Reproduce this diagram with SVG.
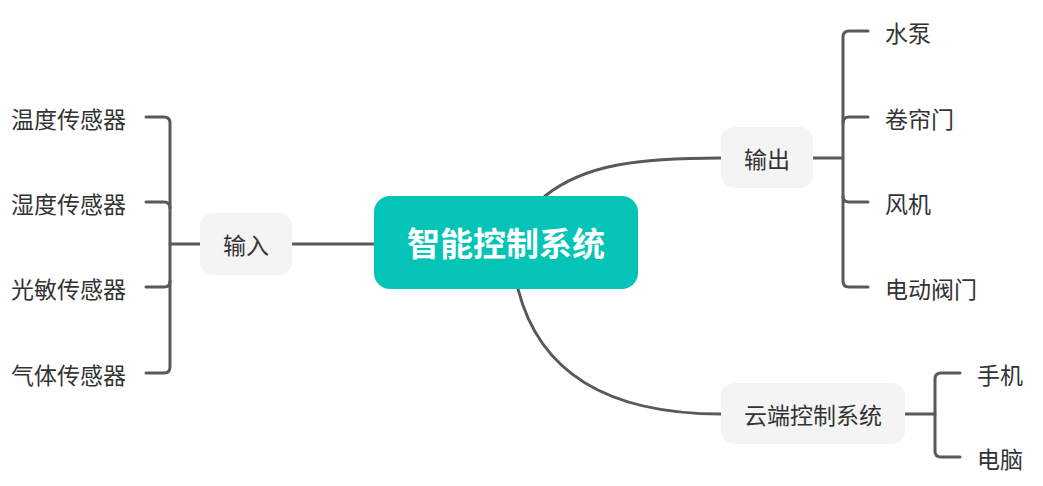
<svg xmlns="http://www.w3.org/2000/svg" width="1043" height="486" viewBox="0 0 1043 486">
<style>
.ln{fill:none;stroke:#595959;stroke-width:3;stroke-linecap:round;stroke-linejoin:round}
.sub{fill:#F4F4F4}
.t{font-family:"Noto Sans CJK SC","Microsoft YaHei",sans-serif;font-size:23px;fill:#333333;dominant-baseline:central}
.c{text-anchor:middle}
.main{font-family:"Noto Sans CJK SC","Microsoft YaHei",sans-serif;font-size:33px;font-weight:bold;fill:#FFFFFF;text-anchor:middle;dominant-baseline:central}
</style>
<rect width="1043" height="486" fill="#FFFFFF"/>
<g id="connectors">
<path class="ln" d="M292 244 H374"/>
<path class="ln" d="M200 244 H170"/>
<path class="ln" d="M146 117 H164 Q170 117 170 123 V367 Q170 373 164 373 H146"/>
<path class="ln" d="M146 202 H164 Q170 202 170 208"/>
<path class="ln" d="M146 287 H164 Q170 287 170 281"/>
<path class="ln" d="M545 196 C585 164 640 158 721 158"/>
<path class="ln" d="M813 158 H843"/>
<path class="ln" d="M868 31 H849 Q843 31 843 37 V281 Q843 287 849 287 H868"/>
<path class="ln" d="M868 117 H849 Q843 117 843 123"/>
<path class="ln" d="M868 202 H849 Q843 202 843 196"/>
<path class="ln" d="M518 289 C540 375 610 414 721 414"/>
<path class="ln" d="M905 414 H935"/>
<path class="ln" d="M960 373 H941 Q935 373 935 379 V451 Q935 457 941 457 H960"/>
</g>
<g id="center">
<rect x="374" y="196" width="264" height="93" rx="16" fill="#03C4B6"/>
<text class="main" x="506" y="242">智能控制系统</text>
</g>
<g id="input">
<rect class="sub" x="200" y="213" width="92" height="62" rx="13"/>
<text class="t c" x="246" y="244">输入</text>
</g>
<g id="output">
<rect class="sub" x="721" y="127" width="92" height="61" rx="13"/>
<text class="t c" x="767" y="158">输出</text>
</g>
<g id="cloud">
<rect class="sub" x="721" y="383" width="184" height="61" rx="13"/>
<text class="t c" x="813" y="414">云端控制系统</text>
</g>
<g id="in1"><text class="t" x="11" y="118">温度传感器</text></g>
<g id="in2"><text class="t" x="11" y="203">湿度传感器</text></g>
<g id="in3"><text class="t" x="11" y="288">光敏传感器</text></g>
<g id="in4"><text class="t" x="11" y="374">气体传感器</text></g>
<g id="out1"><text class="t" x="885" y="32">水泵</text></g>
<g id="out2"><text class="t" x="885" y="118">卷帘门</text></g>
<g id="out3"><text class="t" x="885" y="203">风机</text></g>
<g id="out4"><text class="t" x="885" y="288">电动阀门</text></g>
<g id="c1"><text class="t" x="977" y="374">手机</text></g>
<g id="c2"><text class="t" x="977" y="458">电脑</text></g>
</svg>
